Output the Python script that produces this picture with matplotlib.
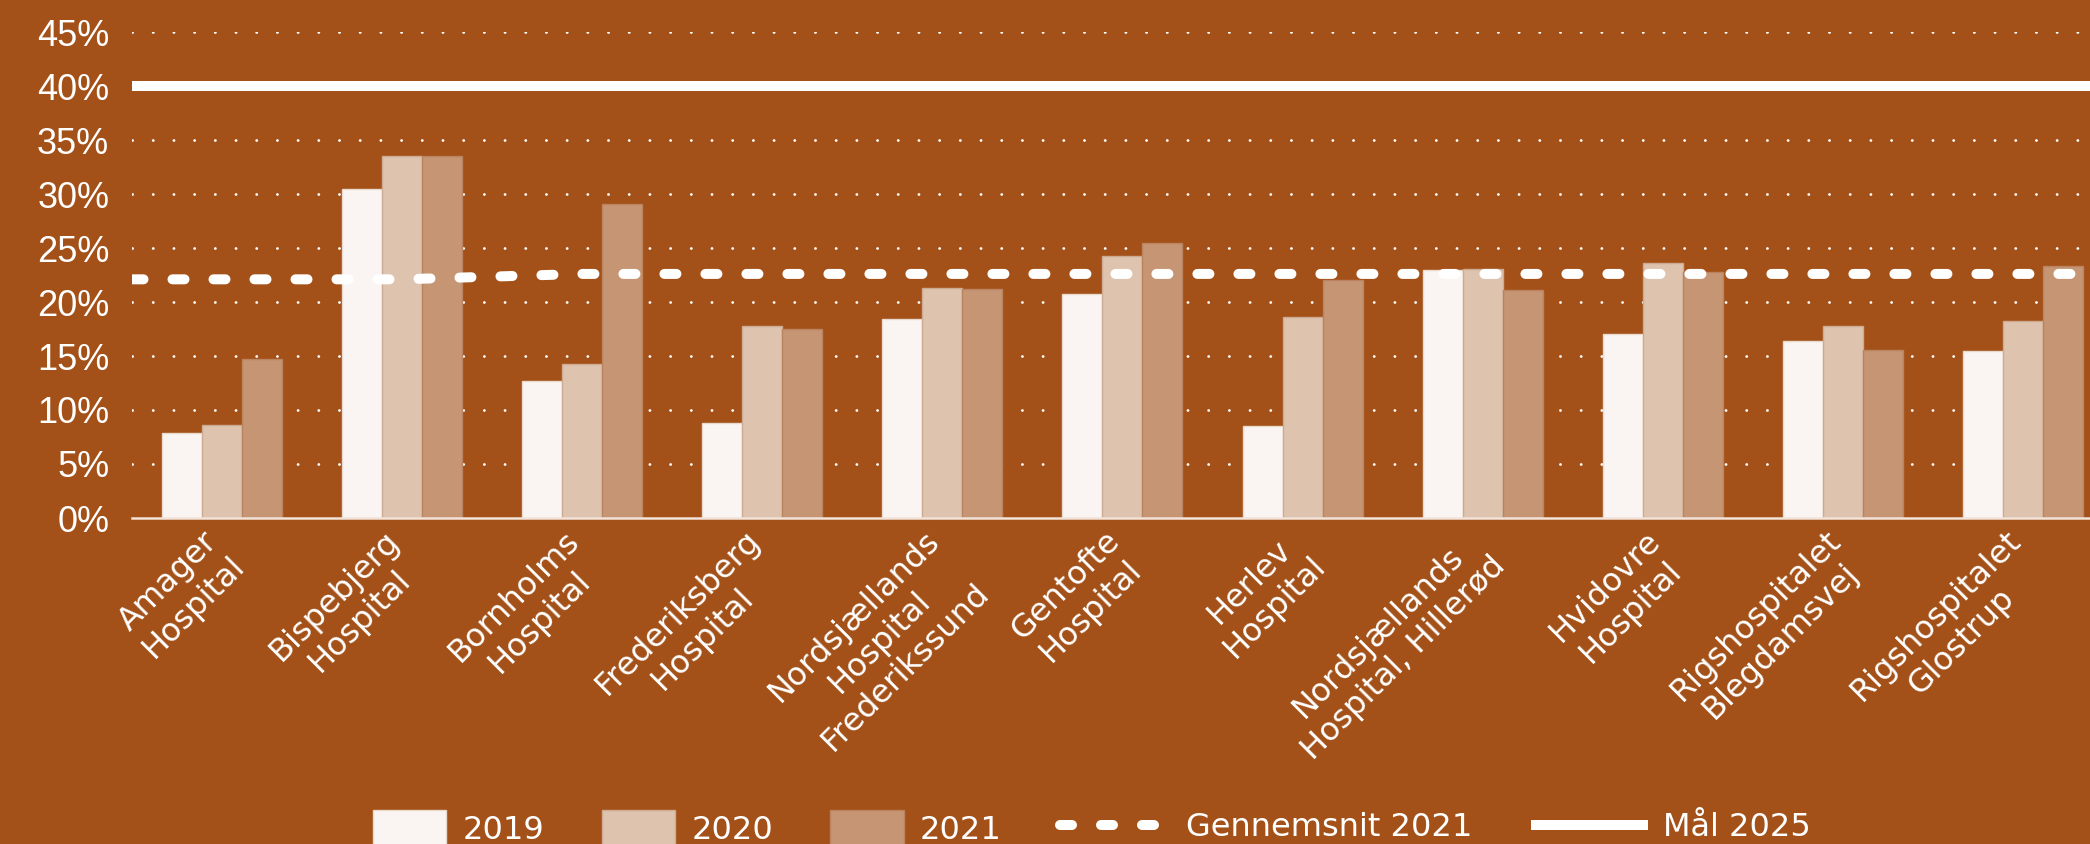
import numpy as np
import matplotlib
matplotlib.use("Agg")
import matplotlib.pyplot as plt
from matplotlib.transforms import ScaledTranslation

# data (share in %)
hospitals = [
    "Amager\nHospital", "Bispebjerg\nHospital", "Bornholms\nHospital",
    "Frederiksberg\nHospital", "Nordsjællands\nHospital\nFrederikssund",
    "Gentofte\nHospital", "Herlev\nHospital", "Nordsjællands\nHospital, Hillerød",
    "Hvidovre\nHospital", "Rigshospitalet\nBlegdamsvej", "Rigshospitalet\nGlostrup",
]
years = ["2019", "2020", "2021"]
v2019 = [7.9, 30.5, 12.7, 8.8, 18.4, 20.7, 8.5, 23.0, 17.0, 16.4, 15.5]
v2020 = [8.6, 33.5, 14.3, 17.8, 21.3, 24.3, 18.6, 23.1, 23.6, 17.8, 18.2]
v2021 = [14.7, 33.5, 29.1, 17.5, 21.2, 25.5, 22.0, 21.1, 22.8, 15.6, 23.3]
avg2021 = [22.1, 22.1, 22.6, 22.6, 22.6, 22.6, 22.6, 22.6, 22.6, 22.6, 22.6]
target2025 = 40
yticks = [0, 5, 10, 15, 20, 25, 30, 35, 40, 45]

bg = "#A35118"
fills = ["#FAF5F2", "#DEC3AE", "#C69573"]
edges = ["#EAD9CD", "#CDAA91", "#B9845F"]

plt.rcParams["font.family"] = ["DejaVu Sans"]

W, H = 2090, 844
fig = plt.figure(figsize=(W / 100, H / 100), dpi=100, facecolor=bg)
ax = fig.add_axes([131.5 / W, 1 - 518 / H, 1 - 131.5 / W, (518 - 32) / H])
ax.set_facecolor(bg)

x = np.arange(len(hospitals))
bw = 0.222
for i, vals in enumerate([v2019, v2020, v2021]):
    ax.bar(x + (i - 1) * bw, vals, bw, color=fills[i], edgecolor=edges[i],
           linewidth=1, label=years[i], zorder=2)

xlim = (-0.5, 10.37)
avg_line, = ax.plot(np.r_[xlim[0], x, xlim[1]], np.r_[avg2021[0], avg2021, avg2021[-1]],
                    color="white", lw=7.2, dashes=(1.2, 2.9), dash_capstyle="round",
                    label="Gennemsnit 2021", zorder=4)
tgt_line = ax.axhline(target2025, color="white", lw=7.2, label="Mål 2025", zorder=3)

ax.set_xlim(*xlim)
ax.set_ylim(0, 45)
ax.set_yticks(yticks)
ax.set_yticklabels([f"{t}%" for t in yticks], family=["Liberation Sans", "DejaVu Sans"],
                   fontsize=26, color="white")
ax.set_xticks(x)
ax.set_xticklabels(hospitals, rotation=45, ha="right", va="top", rotation_mode="anchor",
                   multialignment="center", fontsize=23, color="white")
ax.tick_params(axis="both", length=0)
ax.tick_params(axis="y", pad=16)
ax.tick_params(axis="x", pad=5)
shift = ScaledTranslation(-0.18, 0, fig.dpi_scale_trans)
for lbl in ax.get_xticklabels():
    lbl.set_transform(lbl.get_transform() + shift)

for y in yticks[1:]:
    ax.axhline(y, color="white", lw=2.0, dashes=(0.05, 7.4), dash_capstyle="round", zorder=1)

for s in ["top", "right", "left"]:
    ax.spines[s].set_visible(False)
ax.spines["bottom"].set_color("#F3E3D8")
ax.spines["bottom"].set_linewidth(1.8)
ax.spines["bottom"].set_zorder(3)

bars_handles = [plt.Rectangle((0, 0), 1, 1, facecolor=fills[i], edgecolor=edges[i]) for i in range(3)]
leg1 = fig.legend(bars_handles, years, loc="center left", bbox_to_anchor=(373 / W, 1 - 828 / H),
                  ncol=3, frameon=False, fontsize=23, labelcolor="white", handlelength=2.3,
                  handleheight=1.4, handletextpad=0.5, columnspacing=1.8, borderpad=0,
                  borderaxespad=0)
leg2 = fig.legend([avg_line, tgt_line], ["Gennemsnit 2021", "Mål 2025"], loc="center left",
                  bbox_to_anchor=(1060 / W, 1 - 828 / H), ncol=2, frameon=False, fontsize=23,
                  labelcolor="white", handlelength=3.35, handletextpad=0.6, columnspacing=2.0,
                  borderpad=0, borderaxespad=0)

fig.savefig("out.png", dpi=100, facecolor=bg)
